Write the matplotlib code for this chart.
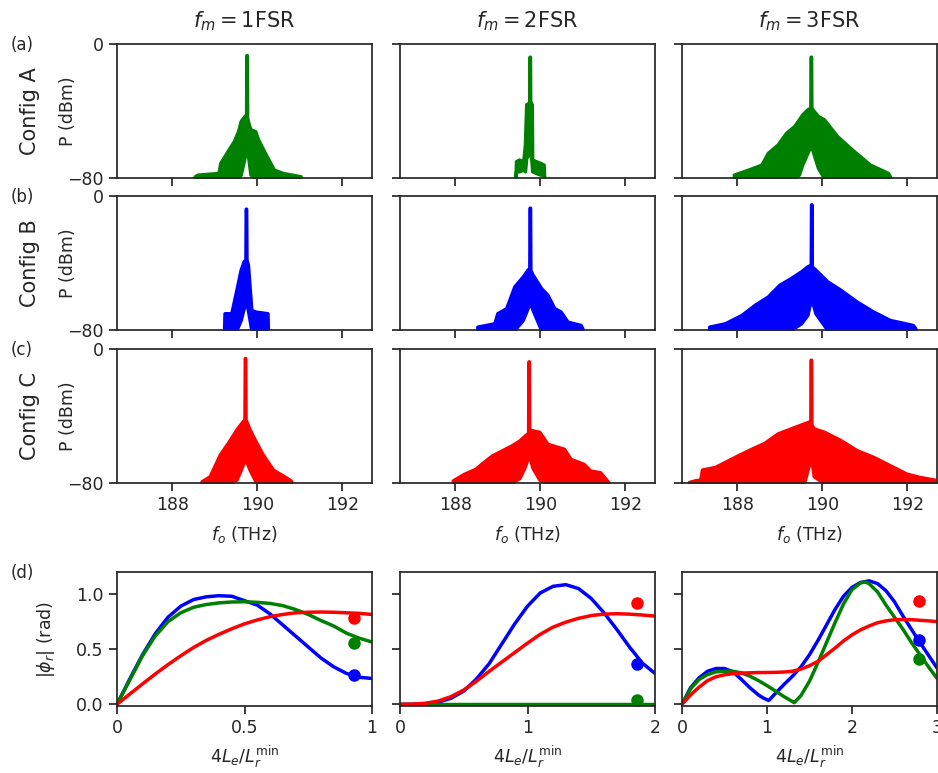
import matplotlib
matplotlib.use("Agg")
import matplotlib.pyplot as plt
import seaborn as sns

sns.set_theme(style="ticks")
plt.rcParams['font.family'] = ['DejaVu Sans']

# ---- spectra: envelopes (THz, dBm) ----
# row a (Config A, green)
f_a1 = [188.53, 188.60, 189.09, 189.13, 189.30, 189.45, 189.55, 189.61, 189.70, 189.738, 189.745, 189.755, 189.762, 189.80, 189.84, 189.95, 190.02, 190.16, 190.39, 190.60, 191.02]
hi_a1 = [-79, -78, -77, -71, -64, -58, -52, -46, -43, -42, -6.6, -6.6, -44, -48, -51, -52, -57, -64, -75, -77, -79]
lo_a1 = [-80, -80, -80, -80, -80, -80, -80, -78, -68, -62, -61, -61, -62, -70, -78, -80, -80, -80, -80, -80, -80]

f_a2 = [189.42, 189.43, 189.50, 189.60, 189.64, 189.67, 189.73, 189.743, 189.748, 189.758, 189.763, 189.78, 189.80, 189.81, 189.90, 190.00, 190.08, 190.09]
hi_a2 = [-78, -70, -69, -70, -60, -36, -35, -35, -7.6, -7.6, -35, -35, -36, -69, -70, -71, -72, -79]
lo_a2 = [-79, -76, -76, -75, -76, -68, -66, -64, -64, -64, -64, -66, -72, -76, -77, -78, -78, -79]

f_a3 = [187.92, 188.26, 188.57, 188.72, 188.95, 189.15, 189.34, 189.45, 189.53, 189.65, 189.72, 189.727, 189.737, 189.744, 189.80, 189.90, 190.04, 190.35, 190.70, 191.12, 191.55, 191.59]
hi_a3 = [-78, -75, -72, -65, -60, -53, -49, -45, -42, -39, -38, -7.6, -7.6, -38, -40, -43, -45, -55, -63, -72, -77, -79]
lo_a3 = [-80, -80, -80, -80, -80, -80, -80, -78, -72, -65, -61, -61, -61, -61, -66, -74, -80, -80, -80, -80, -80, -80]

# row b (Config B, blue)
f_b1 = [189.22, 189.23, 189.39, 189.51, 189.61, 189.68, 189.722, 189.729, 189.739, 189.746, 189.78, 189.86, 189.95, 190.10, 190.24, 190.25]
hi_b1 = [-79, -70, -70, -56, -44, -39, -38, -7.6, -7.6, -38, -41, -68, -69, -69.5, -70, -79]
lo_b1 = [-80, -80, -80, -80, -74, -67, -64, -64, -64, -64, -68, -80, -80, -80, -80, -80]

f_b2 = [188.52, 188.92, 188.99, 189.20, 189.39, 189.59, 189.70, 189.743, 189.75, 189.76, 189.767, 189.82, 190.02, 190.17, 190.33, 190.48, 190.64, 190.95, 190.99]
hi_b2 = [-78, -76, -70, -67, -54, -48, -44, -43, -7, -7, -44, -47, -55, -59, -67, -69, -75, -77, -79]
lo_b2 = [-80, -80, -80, -80, -80, -74, -67, -64, -64, -64, -64, -68, -80, -80, -80, -80, -80, -80, -80]

f_b3 = [187.34, 187.71, 188.10, 188.41, 188.72, 188.99, 189.26, 189.50, 189.65, 189.73, 189.737, 189.747, 189.754, 189.84, 190.12, 190.43, 190.81, 191.20, 191.59, 192.13, 192.19]
hi_b3 = [-78, -76, -71, -65, -60, -53, -49, -45, -42, -41, -5, -5, -42, -44, -51, -56, -63, -69, -74, -77, -79]
lo_b3 = [-80, -80, -80, -80, -80, -80, -80, -76, -71, -62, -62, -62, -62, -70, -80, -80, -80, -80, -80, -80, -80]

# row c (Config C, red)
f_c1 = [188.69, 188.88, 189.12, 189.31, 189.51, 189.63, 189.70, 189.707, 189.717, 189.724, 189.82, 189.98, 190.13, 190.37, 190.76, 190.80]
hi_c1 = [-79, -76, -63, -56, -48, -44, -42, -5.4, -5.4, -42, -48, -56, -63, -72, -78, -79]
lo_c1 = [-80, -80, -80, -80, -78, -71, -66, -66, -66, -66, -72, -80, -80, -80, -80, -80]

f_c2 = [187.94, 188.20, 188.47, 188.66, 188.86, 189.09, 189.32, 189.51, 189.64, 189.715, 189.722, 189.732, 189.739, 189.82, 189.98, 190.17, 190.56, 190.71, 191.02, 191.18, 191.41, 191.57, 191.60]
hi_c2 = [-78.5, -74.6, -71.6, -67.6, -63.6, -60.6, -57.6, -54.6, -51.6, -50, -7.4, -7.4, -48, -48.6, -49.5, -56.6, -59.6, -65.6, -68.6, -72.6, -73.6, -78.5, -79.5]
lo_c2 = [-80, -80, -80, -80, -80, -80, -80, -77, -70, -64, -64, -64, -64, -71, -78, -80, -80, -80, -80, -80, -80, -80, -80]

f_c3 = [186.86, 187.01, 187.13, 187.17, 187.48, 187.71, 188.02, 188.33, 188.64, 188.95, 189.26, 189.57, 189.72, 189.727, 189.737, 189.744, 189.80, 190.04, 190.43, 190.81, 191.20, 191.59, 191.98, 192.29, 192.64]
hi_c3 = [-79.4, -78.4, -78, -72, -70.4, -67.4, -63.4, -59.6, -56, -50.4, -47.4, -44.4, -43, -6.4, -6.4, -45, -47.4, -49.4, -54.4, -60.4, -64.4, -69.4, -74.4, -76.4, -78]
lo_c3 = [-80, -80, -80, -80, -80, -80, -80, -80, -80, -80, -80, -80, -66, -66, -66, -66, -76, -80, -80, -80, -80, -80, -80, -80, -80]

# ---- bottom row: |phi_r| vs 4Le/Lr^min ----
x_d1 = [0, 0.05, 0.1, 0.15, 0.2, 0.25, 0.3, 0.35, 0.4, 0.45, 0.5, 0.55, 0.6, 0.65, 0.7, 0.75, 0.8, 0.85, 0.9, 0.95, 1.0]
y_d1_blue = [0, 0.23, 0.45, 0.64, 0.79, 0.89, 0.95, 0.975, 0.985, 0.98, 0.94, 0.90, 0.82, 0.72, 0.62, 0.52, 0.42, 0.34, 0.28, 0.245, 0.235]
y_d1_green = [0, 0.22, 0.44, 0.62, 0.75, 0.83, 0.88, 0.905, 0.92, 0.928, 0.93, 0.925, 0.915, 0.895, 0.86, 0.815, 0.76, 0.71, 0.645, 0.60, 0.565]
y_d1_red = [0, 0.093, 0.185, 0.275, 0.36, 0.44, 0.515, 0.58, 0.635, 0.685, 0.73, 0.765, 0.795, 0.815, 0.83, 0.835, 0.837, 0.835, 0.83, 0.825, 0.815]

x_d2 = [0, 0.1, 0.2, 0.3, 0.4, 0.5, 0.6, 0.7, 0.8, 0.9, 1.0, 1.1, 1.2, 1.3, 1.4, 1.5, 1.6, 1.7, 1.8, 1.9, 2.0]
y_d2_blue = [0, 0.0, 0.005, 0.02, 0.055, 0.12, 0.23, 0.37, 0.55, 0.73, 0.89, 1.01, 1.07, 1.085, 1.05, 0.96, 0.83, 0.68, 0.52, 0.375, 0.28]
y_d2_green = [0, 0, 0, 0, 0, 0, 0, 0, 0, 0, 0, 0, 0, 0, 0, 0, 0, 0, 0, 0, 0]
y_d2_red = [0, 0.002, 0.01, 0.03, 0.07, 0.13, 0.21, 0.30, 0.385, 0.47, 0.555, 0.635, 0.70, 0.745, 0.78, 0.805, 0.818, 0.822, 0.818, 0.81, 0.80]

x_d3_blue = [0, 0.1, 0.2, 0.3, 0.4, 0.5, 0.6, 0.7, 0.8, 0.9, 0.95, 1.02, 1.1, 1.2, 1.3, 1.4, 1.5, 1.6, 1.7, 1.8, 1.9, 2.0, 2.1, 2.2, 2.3, 2.4, 2.5, 2.6, 2.7, 2.8, 2.9, 3.0]
y_d3_blue = [0, 0.15, 0.24, 0.30, 0.325, 0.325, 0.295, 0.225, 0.15, 0.085, 0.06, 0.035, 0.10, 0.18, 0.255, 0.34, 0.45, 0.58, 0.72, 0.86, 0.98, 1.06, 1.105, 1.12, 1.095, 1.03, 0.93, 0.80, 0.68, 0.56, 0.445, 0.33]
x_d3_green = [0, 0.1, 0.2, 0.3, 0.4, 0.5, 0.6, 0.7, 0.8, 0.9, 1.0, 1.1, 1.2, 1.3, 1.32, 1.4, 1.5, 1.6, 1.7, 1.8, 1.9, 2.0, 2.1, 2.15, 2.2, 2.3, 2.4, 2.5, 2.6, 2.7, 2.8, 2.9, 3.0]
y_d3_green = [0, 0.14, 0.225, 0.27, 0.295, 0.30, 0.30, 0.285, 0.255, 0.215, 0.17, 0.12, 0.07, 0.025, 0.015, 0.08, 0.21, 0.38, 0.56, 0.74, 0.91, 1.04, 1.10, 1.11, 1.095, 1.02, 0.90, 0.79, 0.68, 0.56, 0.45, 0.34, 0.236]
x_d3_red = [0, 0.1, 0.2, 0.3, 0.4, 0.5, 0.6, 0.7, 0.8, 0.9, 1.0, 1.1, 1.2, 1.3, 1.4, 1.5, 1.6, 1.7, 1.8, 1.9, 2.0, 2.1, 2.2, 2.3, 2.4, 2.5, 2.6, 2.7, 2.8, 2.9, 3.0]
y_d3_red = [0, 0.085, 0.155, 0.215, 0.25, 0.268, 0.278, 0.283, 0.286, 0.288, 0.289, 0.29, 0.293, 0.30, 0.32, 0.35, 0.39, 0.45, 0.51, 0.575, 0.63, 0.675, 0.71, 0.74, 0.757, 0.767, 0.77, 0.768, 0.762, 0.757, 0.75]

# measured points per panel
dot_x = [0.93, 1.86, 2.79]
dot_red = [0.78, 0.915, 0.94]
dot_blue = [0.27, 0.37, 0.58]
dot_green = [0.555, 0.035, 0.41]

xmax_d = [1, 2, 3]
titles = ['$f_m = 1$FSR', '$f_m = 2$FSR', '$f_m = 3$FSR']
configs = ['Config A', 'Config B', 'Config C']
letters = ['(a)', '(b)', '(c)']
row_colors = ['green', 'blue', 'red']

spectra = [
    [(f_a1, hi_a1, lo_a1), (f_a2, hi_a2, lo_a2), (f_a3, hi_a3, lo_a3)],
    [(f_b1, hi_b1, lo_b1), (f_b2, hi_b2, lo_b2), (f_b3, hi_b3, lo_b3)],
    [(f_c1, hi_c1, lo_c1), (f_c2, hi_c2, lo_c2), (f_c3, hi_c3, lo_c3)],
]

W, H = 938., 773.
fig = plt.figure(figsize=(W / 100, H / 100), dpi=100)

col_left = [117, 400, 682]
ax_w = 255
row_top = [44, 196, 349]
ax_h = 134
FS = 12.5

for r in range(3):
    for c in range(3):
        ax = fig.add_axes([col_left[c] / W, 1 - (row_top[r] + ax_h) / H, ax_w / W, ax_h / H])
        f, hi, lo = spectra[r][c]
        ax.fill_between(f, lo, hi, color=row_colors[r], lw=2.5)
        ax.set_xlim(186.7, 192.7)
        ax.set_ylim(-80, 0)
        ax.set_yticks([-80, 0])
        ax.set_xticks([188, 190, 192])
        for s in ax.spines.values():
            s.set_linewidth(1.25)
        ax.tick_params(labelsize=FS)
        if c == 0:
            ax.set_ylabel('P (dBm)', fontsize=FS)
            ax.yaxis.set_label_coords(-0.155, 0.5)
            fig.text(30 / W, 1 - (row_top[r] + ax_h / 2) / H, configs[r],
                     rotation=90, ha='center', va='center', fontsize=15)
            fig.text(22 / W, 1 - (row_top[r] + 1) / H, letters[r],
                     ha='center', va='center', fontsize=12)
        else:
            ax.set_yticklabels([])
        if r == 2:
            ax.set_xlabel('$f_o$ (THz)', fontsize=FS, labelpad=7)
        else:
            ax.set_xticklabels([])
        if r == 0:
            ax.set_title(titles[c], fontsize=15, pad=12)

# bottom row
curves = [
    [(x_d1, y_d1_blue, 'blue'), (x_d1, y_d1_green, 'green'), (x_d1, y_d1_red, 'red')],
    [(x_d2, y_d2_blue, 'blue'), (x_d2, y_d2_green, 'green'), (x_d2, y_d2_red, 'red')],
    [(x_d3_blue, y_d3_blue, 'blue'), (x_d3_green, y_d3_green, 'green'), (x_d3_red, y_d3_red, 'red')],
]
d_top = 572
for c in range(3):
    ax = fig.add_axes([col_left[c] / W, 1 - (d_top + ax_h) / H, ax_w / W, ax_h / H])
    for xs, ys, col in curves[c]:
        ax.plot(xs, ys, color=col, lw=2.5)
    ax.plot(dot_x[c], dot_red[c], 'o', color='red', ms=8)
    ax.plot(dot_x[c], dot_blue[c], 'o', color='blue', ms=8)
    ax.plot(dot_x[c], dot_green[c], 'o', color='green', ms=8)
    ax.set_xlim(0, xmax_d[c])
    ax.set_ylim(-0.015, 1.2)
    ax.set_yticks([0, 0.5, 1.0])
    if c == 0:
        ax.set_xticks([0, 0.5, 1])
        ax.set_xticklabels(['0', '0.5', '1'])
        ax.set_ylabel(r'$|\phi_r|$ (rad)', fontsize=FS)
        ax.yaxis.set_label_coords(-0.235, 0.5)
        fig.text(22 / W, 1 - (d_top + 1) / H, '(d)', ha='center', va='center', fontsize=12)
    else:
        ax.set_xticks(list(range(xmax_d[c] + 1)))
        ax.set_yticklabels([])
    ax.set_xlabel(r'$4L_e/L_r^{\min}$', fontsize=FS, labelpad=5)
    for s in ax.spines.values():
        s.set_linewidth(1.25)
    ax.tick_params(labelsize=FS)

fig.savefig('out.png', dpi=100)
